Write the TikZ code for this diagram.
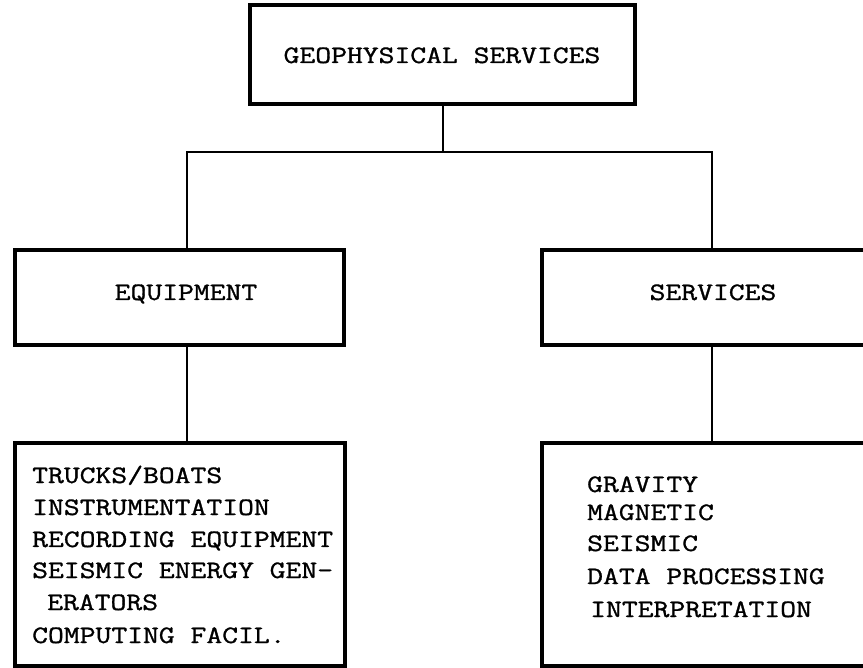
\documentclass[tikz,border=0pt]{standalone}
\usepackage{fontspec}
\newfontfamily\typew[FakeStretch=1.23,FakeBold=1.2]{Latin Modern Mono}
\tikzset{
  box/.style={draw=black, line width=3.2pt, inner sep=0pt, outer sep=0pt},
  link/.style={draw=black, line width=1.8pt},
  title/.style={font=\typew\fontsize{25}{30}\selectfont, inner sep=0pt, anchor=base},
  item/.style={font=\typew\fontsize{25}{30}\selectfont, inner sep=0pt, anchor=base west},
}
\begin{document}
\begin{tikzpicture}[x=1pt,y=-1pt]
\useasboundingbox (0,0) rectangle (863,668);
\clip (0,0) rectangle (863,668);

% boxes
\node[box, minimum width=385pt, minimum height=99pt] (geo) at (442.5,54.5) {};
\node[box, minimum width=329pt, minimum height=95pt] (eq) at (179.5,297.5) {};
\node[box, minimum width=340pt, minimum height=95pt] (sv) at (712,297.5) {};
\node[box, minimum width=330pt, minimum height=223pt] (eqlist) at (180,554.5) {};
\node[box, minimum width=340pt, minimum height=223pt] (svlist) at (712,554.5) {};

% titles
\node[title] (geoT) at (442,63) {GEOPHYSICAL SERVICES};
\node[title] (eqT) at (186,300) {EQUIPMENT};
\node[title] (svT) at (713,300) {SERVICES};

% equipment items
\node[item] (e1) at (32,483) {TRUCKS/BOATS};
\node[item] (e2) at (32,515) {INSTRUMENTATION};
\node[item] (e3) at (32,547) {RECORDING EQUIPMENT};
\node[item] (e4) at (32,578) {SEISMIC ENERGY GEN-};
\node[item] (e5) at (47,610) {ERATORS};
\node[item] (e6) at (32,643) {COMPUTING FACIL.};

% service items
\node[item] (s1) at (587,492) {GRAVITY};
\node[item] (s2) at (587,520) {MAGNETIC};
\node[item] (s3) at (587,551) {SEISMIC};
\node[item] (s4) at (587,584) {DATA PROCESSING};
\node[item] (s5) at (590,617) {INTERPRETATION};

% connectors
\coordinate (jn) at (443,152);
\draw[link] (geo.south -| jn) -- (jn);
\draw[link] (jn) -| (187,250) coordinate (eqin);
\draw[link] (jn) -| (712,250) coordinate (svin);
\draw[link] (eq.south -| eqin) -- (eqlist.north -| eqin);
\draw[link] (sv.south) -- (svlist.north);
\end{tikzpicture}
\end{document}
